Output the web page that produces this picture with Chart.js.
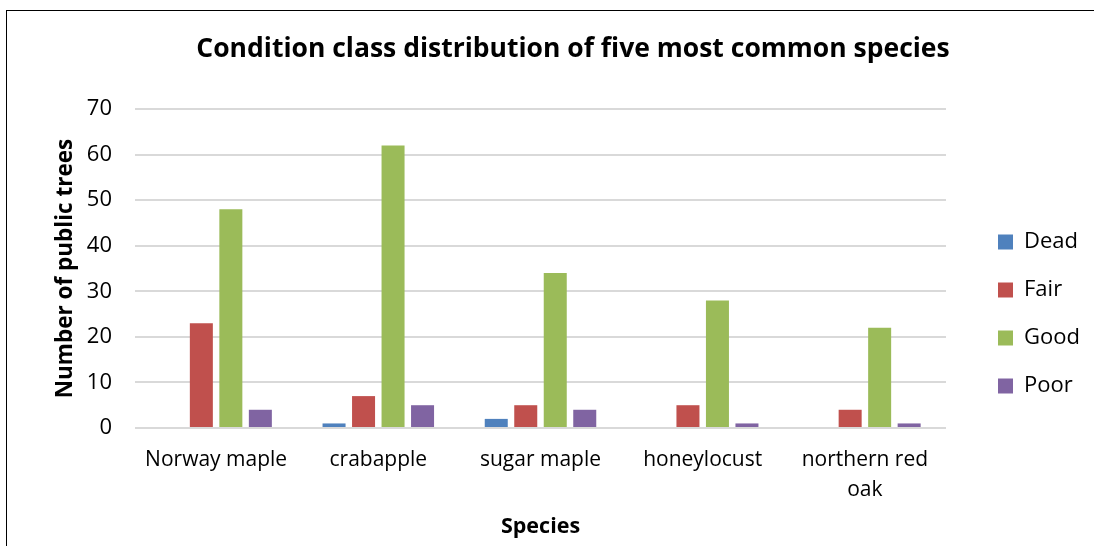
<!DOCTYPE html>
<html>
<head>
<meta charset="utf-8">
<script src="https://cdn.jsdelivr.net/npm/chart.js@4/dist/chart.umd.min.js"></script>
<style>
  html, body { margin: 0; padding: 0; background: #fff; overflow: hidden; }
  #wrap { width: 1094px; height: 546px; }
</style>
</head>
<body>
<div id="wrap"><canvas id="c" width="1094" height="546"></canvas></div>
<script>
const categories = ['Norway maple', 'crabapple', 'sugar maple', 'honeylocust', ['northern red', 'oak']];
const seriesNames = ['Dead', 'Fair', 'Good', 'Poor'];
const dead = [0, 1, 2, 0, 0];
const fair = [23, 7, 5, 5, 4];
const good = [48, 62, 34, 28, 22];
const poor = [4, 5, 4, 1, 1];
const yTicks = [0, 10, 20, 30, 40, 50, 60, 70];
const colors = ['#4F81BD', '#C0504D', '#9BBB59', '#8064A2'];

const FONT = "'Open Sans', 'DejaVu Sans', sans-serif";

const frame = {
  id: 'frame',
  beforeDraw(chart) {
    const ctx = chart.ctx;
    ctx.save();
    ctx.fillStyle = '#fff';
    ctx.fillRect(0, 0, chart.width, chart.height);
    ctx.strokeStyle = '#000';
    ctx.lineWidth = 1;
    ctx.strokeRect(6.5, 10.5, 1400, 800);
    ctx.restore();
  }
};

const values = [dead, fair, good, poor];
new Chart(document.getElementById('c'), {
  type: 'bar',
  data: {
    labels: categories,
    datasets: seriesNames.map((n, i) => ({
      label: n,
      data: values[i],
      backgroundColor: colors[i],
      borderWidth: 0,
      categoryPercentage: 0.7275,
      barPercentage: 0.78
    }))
  },
  options: {
    responsive: false,
    animation: false,
    devicePixelRatio: 1,
    layout: { padding: { left: 62, right: 10, top: 0, bottom: 0 } },
    plugins: {
      tooltip: { enabled: false },
      title: {
        display: true,
        text: 'Condition class distribution of five most common species',
        color: '#000',
        font: { family: FONT, size: 26.5, weight: 'bold', lineHeight: 1.2 },
        padding: { top: 34, bottom: 43.2 }
      },
      legend: {
        position: 'right',
        align: 'start',
        fullSize: false,
        maxWidth: 112,
        title: { display: true, text: ' ', font: { size: 10, lineHeight: 1 }, padding: { top: 86, bottom: 0 } },
        labels: {
          boxWidth: 15,
          boxHeight: 15,
          padding: 26,
          color: '#000',
          font: { family: FONT, size: 22 }
        }
      }
    },
    scales: {
      x: {
        grid: { display: false, drawTicks: false },
        border: { display: false },
        ticks: {
          color: '#000',
          padding: 17,
          maxRotation: 0,
          autoSkip: false,
          font: { family: FONT, size: 21, lineHeight: 30 / 21 }
        },
        title: {
          display: true,
          text: 'Species',
          color: '#000',
          font: { family: FONT, size: 21.5, weight: 'bold', lineHeight: 1.2 },
          padding: { top: 0, bottom: 6 }
        },
        afterFit: s => { s.height = 118; }
      },
      y: {
        min: 0,
        max: 70,
        afterBuildTicks: s => { s.ticks = yTicks.map(v => ({ value: v })); },
        grid: { color: '#d9d9d9', lineWidth: 2, drawTicks: false },
        border: { display: false },
        ticks: {
          color: '#000',
          padding: 23,
          font: { family: FONT, size: 22 }
        },
        title: {
          display: true,
          text: 'Number of public trees',
          color: '#000',
          font: { family: FONT, size: 22.5, weight: 'bold', lineHeight: 1.2 },
          padding: { top: -9.5, bottom: 0 }
        },
        afterFit: s => { s.width = 73; }
      },
      y2: {
        position: 'right',
        display: true,
        grid: { display: false, drawTicks: false },
        border: { display: false },
        ticks: { display: false },
        afterFit: s => { s.width = 26; }
      }
    }
  },
  plugins: [frame]
});
</script>
</body>
</html>
